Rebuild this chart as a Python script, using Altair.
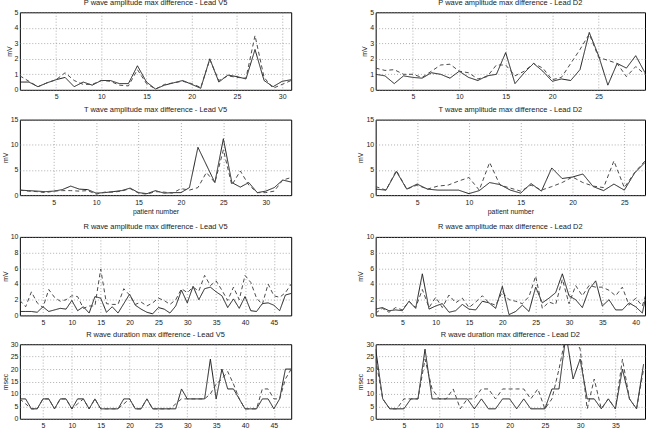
import altair as alt
import pandas as pd

FONT = "Liberation Sans"

# ---------------- data ----------------
p_v5_solid = [0.5, 0.5, 0.2, 0.45, 0.65, 0.8, 0.2, 0.5, 0.3, 0.6,
              0.6, 0.4, 0.4, 1.55, 0.5, 0.05, 0.3, 0.45, 0.6, 0.35,
              0.1, 2.0, 0.5, 0.95, 0.85, 0.7, 2.6, 0.6, 0.2, 0.55, 0.65]
p_v5_dashed = [0.9, 0.55, 0.2, 0.45, 0.65, 1.1, 0.6, 0.35, 0.35, 0.6,
               0.55, 0.3, 0.25, 1.3, 0.4, 0.05, 0.35, 0.45, 0.55, 0.4,
               0.15, 1.95, 0.6, 0.9, 0.8, 0.75, 3.5, 0.8, 0.1, 0.35, 0.6]

p_d2_solid = [1.0, 0.9, 0.4, 0.9, 0.8, 0.75, 1.1, 1.0, 0.75, 1.2,
              0.8, 0.6, 0.9, 1.0, 2.4, 0.4, 1.1, 1.7, 1.2, 0.55,
              0.7, 0.6, 1.3, 3.7, 2.2, 0.3, 1.7, 1.4, 2.2, 1.1]
p_d2_dashed = [1.4, 1.25, 1.3, 1.0, 1.0, 0.8, 1.2, 1.6, 1.65, 1.2,
               1.1, 0.7, 0.85, 1.6, 1.6, 0.9, 1.2, 1.7, 1.4, 0.65,
               0.8, 1.7, 2.6, 3.6, 2.1, 1.9, 1.7, 0.85, 1.5, 1.0]

t_v5_solid = [1.0, 0.9, 0.8, 0.7, 0.8, 1.1, 1.8, 1.2, 1.1, 0.4,
              0.5, 0.7, 0.9, 1.4, 0.5, 0.3, 0.9, 0.4, 0.5, 0.5,
              1.5, 9.5, 6.0, 2.5, 11.2, 2.5, 1.6, 2.5, 0.5, 0.8,
              1.5, 3.0, 2.6]
t_v5_dashed = [1.0, 0.8, 0.7, 0.5, 0.8, 0.9, 0.9, 0.8, 0.9, 0.2,
               0.6, 0.6, 0.8, 1.3, 0.4, 0.2, 0.7, 0.6, 0.4, 1.3,
               1.0, 1.5, 4.5, 2.5, 9.0, 2.0, 4.8, 2.0, 0.5, 0.5,
               0.8, 3.0, 3.5]

t_d2_solid = [1.2, 1.0, 4.7, 1.2, 2.2, 1.2, 1.0, 1.0, 1.0, 0.3,
              0.9, 2.5, 2.1, 1.0, 0.4, 2.3, 0.8, 5.4, 3.3, 3.6,
              4.2, 1.7, 0.9, 2.2, 1.0, 4.4, 6.5]
t_d2_dashed = [1.7, 1.0, 4.9, 1.2, 2.0, 1.2, 1.8, 2.0, 2.8, 3.5,
               1.0, 6.5, 2.0, 1.4, 0.8, 2.0, 1.0, 1.7, 2.5, 3.6,
               2.5, 1.8, 1.5, 6.8, 1.5, 4.5, 6.8]

r_v5_solid = [0.5, 0.5, 0.5, 0.4, 1.1, 0.5, 0.7, 0.9, 0.8, 1.9,
              0.6, 1.1, 0.3, 2.4, 2.2, 0.4, 1.1, 0.3, 1.5, 2.7,
              1.3, 0.8, 0.4, 0.2, 1.0, 0.8, 0.3, 1.2, 3.2, 1.6,
              3.7, 2.0, 3.4, 3.6, 3.0, 2.5, 1.0, 2.1, 0.9, 2.4,
              0.6, 0.5, 1.5, 1.6, 1.3, 0.6, 2.6, 2.8]
r_v5_dashed = [1.9, 1.1, 3.0, 1.6, 1.0, 3.3, 2.3, 1.8, 2.0, 2.5,
               2.4, 0.9, 1.2, 1.2, 5.9, 1.5, 1.4, 1.4, 3.4, 2.6,
               1.4, 1.7, 1.2, 1.6, 2.2, 1.9, 1.4, 2.0, 3.4, 2.9,
               3.6, 3.1, 5.1, 3.8, 4.4, 3.2, 1.9, 3.6, 2.0, 5.1,
               4.2, 2.2, 1.4, 4.0, 2.5, 2.3, 2.9, 4.0]

r_d2_solid = [0.8, 1.0, 0.6, 0.7, 0.6, 1.8, 0.9, 5.3, 0.8, 1.2,
              1.5, 0.4, 0.6, 1.4, 0.8, 0.7, 1.8, 1.6, 0.9, 3.7,
              0.1, 0.5, 1.3, 0.5, 3.6, 1.6, 2.2, 2.9, 5.3, 2.5,
              2.0, 1.0, 3.3, 4.4, 1.2, 2.0, 0.7, 0.7, 1.6, 1.1,
              0.3, 4.2]
r_d2_dashed = [0.3, 0.9, 0.4, 1.0, 0.7, 1.8, 1.0, 3.3, 1.0, 2.3,
               1.0, 2.6, 1.6, 2.2, 1.0, 1.7, 2.5, 1.6, 1.3, 3.0,
               2.0, 1.8, 1.5, 2.4, 5.0, 0.9, 1.7, 1.4, 4.6, 1.5,
               3.8, 2.5, 3.8, 3.6, 3.6, 3.2, 2.5, 3.6, 1.3, 2.2,
               1.2, 4.0]

rd_v5_solid = [8, 8, 4, 4, 8, 8, 4, 8, 8, 4,
               8, 8, 4, 8, 4, 4, 4, 4, 8, 8,
               4, 4, 8, 4, 4, 4, 4, 4, 12, 8,
               8, 8, 8, 24, 8, 20, 12, 12, 8, 4,
               4, 4, 8, 8, 4, 8, 20, 20]
rd_v5_dashed = [8, 6, 4, 4, 8, 8, 4, 8, 8, 4,
                6, 8, 4, 8, 4, 4, 4, 4, 6, 8,
                4, 4, 8, 4, 4, 4, 4, 6, 8, 8,
                8, 8, 8, 10, 14, 16, 19, 14, 8, 4,
                4, 4, 12, 12, 8, 8, 16, 20]

rd_d2_solid = [28, 8, 4, 4, 4, 8, 8, 28, 8, 8,
               8, 8, 8, 8, 4, 8, 4, 4, 8, 8,
               4, 8, 4, 4, 4, 12, 12, 34, 16, 24,
               8, 8, 4, 8, 4, 20, 8, 4, 22]
rd_d2_dashed = [24, 8, 4, 4, 8, 8, 8, 24, 12, 8,
                8, 12, 4, 8, 8, 12, 12, 8, 12, 12,
                12, 12, 8, 12, 4, 8, 20, 34, 34, 28,
                4, 16, 4, 8, 4, 24, 8, 4, 20]

titles = [
    "P wave amplitude max difference - Lead V5",
    "P wave amplitude max difference - Lead D2",
    "T wave amplitude max difference - Lead V5",
    "T wave amplitude max difference - Lead D2",
    "R wave amplitude max difference - Lead V5",
    "R wave amplitude max difference - Lead D2",
    "R wave duration max difference - Lead V5",
    "R wave duration max difference - Lead D2",
]


def panel(title, solid, dashed, xmax, ymax, yticks, xticks, ytitle,
          xtitle, width, height):
    rows = [{"x": i + 1, "v": v, "s": "solid"} for i, v in enumerate(solid)]
    rows += [{"x": i + 1, "v": v, "s": "dashed"} for i, v in enumerate(dashed)]
    df = pd.DataFrame(rows)
    xaxis_kw = dict(values=xticks, labelFlush=False, title=xtitle or "")
    return (
        alt.Chart(df)
        .mark_line(strokeWidth=1, clip=True)
        .encode(
            x=alt.X("x:Q",
                    scale=alt.Scale(domain=[1, xmax], nice=False, zero=False),
                    axis=alt.Axis(**xaxis_kw)),
            y=alt.Y("v:Q",
                    scale=alt.Scale(domain=[0, ymax], nice=False),
                    axis=alt.Axis(values=yticks, title=ytitle)),
            strokeDash=alt.StrokeDash(
                "s:N",
                scale=alt.Scale(domain=["solid", "dashed"], range=[[1, 0], [4, 3]]),
                legend=None),
            color=alt.Color(
                "s:N",
                scale=alt.Scale(domain=["solid", "dashed"], range=["#1c1c1c", "#4a4a4a"]),
                legend=None),
        )
        .properties(width=width, height=height, title=title)
    )


def spacer(width, height):
    return (
        alt.Chart(pd.DataFrame({"a": [0]}))
        .mark_point(opacity=0)
        .encode(x=alt.X("a:Q", axis=None), y=alt.Y("a:Q", axis=None))
        .properties(width=width, height=height,
                    view=alt.ViewBackground(stroke="transparent"))
    )


LW, RW = 273, 271
x5_48 = [5, 10, 15, 20, 25, 30, 35, 40, 45]

p1 = panel(titles[0], p_v5_solid, p_v5_dashed, 31, 5, [0, 1, 2, 3, 4, 5],
           [5, 10, 15, 20, 25, 30], "mV", None, LW, 78)
p2 = panel(titles[1], p_d2_solid, p_d2_dashed, 30, 5, [0, 1, 2, 3, 4, 5],
           [5, 10, 15, 20, 25], "mV", None, RW, 78)
p3 = panel(titles[2], t_v5_solid, t_v5_dashed, 33, 15, [0, 5, 10, 15],
           [5, 10, 15, 20, 25, 30], "mV", "patient number", LW, 76)
p4 = panel(titles[3], t_d2_solid, t_d2_dashed, 27, 15, [0, 5, 10, 15],
           [5, 10, 15, 20, 25], "mV", "patient number", RW, 76)
p5 = panel(titles[4], r_v5_solid, r_v5_dashed, 48, 10, [0, 2, 4, 6, 8, 10],
           x5_48, "mV", None, LW, 79)
p6 = panel(titles[5], r_d2_solid, r_d2_dashed, 41.4, 10, [0, 2, 4, 6, 8, 10],
           [5, 10, 15, 20, 25, 30, 35, 40], "mV", None, RW, 79)
p7 = panel(titles[6], rd_v5_solid, rd_v5_dashed, 48, 30, [0, 5, 10, 15, 20, 25, 30],
           x5_48, "msec", "patient number", LW, 75)
p8 = panel(titles[7], rd_d2_solid, rd_d2_dashed, 39.2, 30, [0, 5, 10, 15, 20, 25, 30],
           [5, 10, 15, 20, 25, 30, 35], "msec", "patient number", RW, 75)

cells = [
    p1, p2,
    spacer(LW, 30), spacer(RW, 30),
    p3, p4,
    spacer(LW, 42), spacer(RW, 42),
    p5, p6,
    spacer(LW, 29), spacer(RW, 29),
    p7, p8,
]

chart = (
    alt.concat(*cells, columns=2, spacing={"row": 0, "column": 85},
               bounds="flush", align="each")
    .properties(padding={"left": 0, "top": -3, "right": 0, "bottom": 0},
                background="white")
    .configure(font=FONT)
    .configure_view(stroke="black", strokeWidth=1)
    .configure_axis(
        labelFont=FONT, titleFont=FONT, labelFontSize=7, titleFontSize=7,
        titleFontWeight="normal", labelColor="#222", titleColor="#222",
        grid=True, gridColor="#8a8a8a", gridDash=[1, 2], gridWidth=0.7,
        domain=False, ticks=False, titlePadding=2,
    )
    .configure_axisX(labelPadding=3)
    .configure_axisY(labelPadding=2)
    .configure_title(font=FONT, fontSize=7.5, fontWeight="normal",
                     color="#222", offset=2)
)

chart.save("out.html", embed_options={"renderer": "svg", "actions": False})
